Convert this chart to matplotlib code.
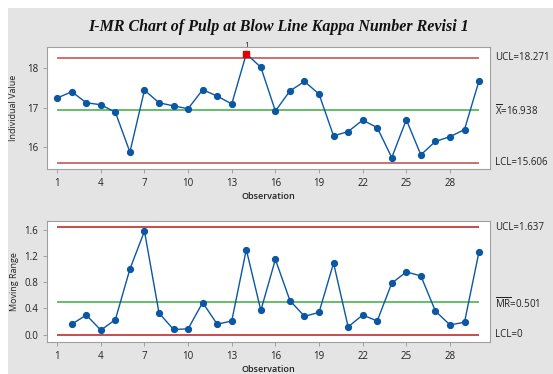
import numpy as np
import matplotlib
matplotlib.use("Agg")
from matplotlib import pyplot as plt
from matplotlib.patches import Rectangle

# observations and individual kappa readings
obs = list(range(1, 31))
kappa = [17.25, 17.41, 17.13, 17.08, 16.89, 15.88, 17.45, 17.13, 17.05, 16.98,
         17.46, 17.30, 17.10, 18.37, 18.03, 16.92, 17.43, 17.67, 17.35, 16.29,
         16.40, 16.69, 16.50, 15.74, 16.70, 15.81, 16.15, 16.27, 16.45, 17.69]

# moving ranges start at the 2nd observation
mr_obs = list(range(2, 31))
mr = [0.16, 0.30, 0.07, 0.23, 1.00, 1.575, 0.33, 0.08, 0.09, 0.49,
      0.16, 0.21, 1.295, 0.37, 1.145, 0.52, 0.28, 0.34, 1.09, 0.12,
      0.30, 0.21, 0.785, 0.955, 0.895, 0.36, 0.15, 0.19, 1.265]

i_ucl, i_cl, i_lcl = 18.271, 16.938, 15.606
mr_ucl, mr_cl, mr_lcl = 1.637, 0.501, 0.0
flagged = [14]

xticks = [1, 4, 7, 10, 13, 16, 19, 22, 25, 28]

BLUE = "#0b57a4"
RED = "#b71c1c"
GREEN = "#5cb85c"
GRAY = "#e4e4e4"
SPINE = "#a0a0a0"
TXT = "#222222"

plt.rcParams["font.family"] = ["Open Sans", "DejaVu Sans"]
plt.rcParams["mathtext.fontset"] = "custom"
plt.rcParams["mathtext.rm"] = "Open Sans"

fig = plt.figure(figsize=(5.53, 3.74), dpi=100)
fig.patch.set_facecolor("white")
fig.patches.append(Rectangle((8 / 553, 0), 1, 1 - 8 / 374, transform=fig.transFigure,
                             facecolor=GRAY, edgecolor="none", zorder=-10))

ax1 = fig.add_axes([0.085, 0.548, 0.801, 0.326])
ax2 = fig.add_axes([0.085, 0.0856, 0.801, 0.3235])


def style(ax):
    for s in ax.spines.values():
        s.set_color(SPINE)
        s.set_linewidth(0.8)
    ax.tick_params(colors=SPINE, labelcolor=TXT, labelsize=7, length=3, width=0.7)
    ax.set_xticks(xticks)
    ax.set_xlim(0.3, 30.75)
    ax.set_xlabel("Observation", fontsize=6.5, color=TXT, fontweight="semibold", labelpad=2)


# individuals chart
style(ax1)
ax1.hlines([i_ucl, i_lcl], 1, 30, color="#c86464", lw=1.3)
ax1.hlines(i_cl, 1, 30, color=GREEN, lw=1.3)
ax1.plot(obs, kappa, color=BLUE, lw=1, marker="o", ms=4.2, zorder=3)
for f in flagged:
    ax1.plot(f, kappa[f - 1], marker="s", ms=4.2, color="#e00000", zorder=4)
    ax1.text(f, kappa[f - 1] + 0.13, "1", ha="center", va="bottom", fontsize=6, color=TXT, clip_on=False)
ax1.set_ylim(15.45, 18.54)
ax1.set_yticks([16, 17, 18])
ax1.set_ylabel("Individual Value", fontsize=6.5, color=TXT, labelpad=6)

tr1 = ax1.get_yaxis_transform()
ax1.text(1.012, i_ucl, "UCL=18.271", transform=tr1, fontsize=7, color=TXT, va="center")
ax1.text(1.012, i_cl, r"$\overline{\mathrm{X}}$=16.938", transform=tr1, fontsize=7, color=TXT, va="center")
ax1.text(1.012, i_lcl, "LCL=15.606", transform=tr1, fontsize=7, color=TXT, va="center")

# moving range chart
style(ax2)
ax2.hlines([mr_ucl, mr_lcl], 1, 30, color=RED, lw=1.1)
ax2.hlines(mr_cl, 1, 30, color=GREEN, lw=1.3)
ax2.plot(mr_obs, mr, color=BLUE, lw=1, marker="o", ms=4.2, zorder=3)
ax2.set_ylim(-0.11, 1.73)
ax2.set_yticks([0.0, 0.4, 0.8, 1.2, 1.6])
ax2.set_yticklabels(["0.0", "0.4", "0.8", "1.2", "1.6"])
ax2.set_ylabel("Moving Range", fontsize=6.5, color=TXT, labelpad=4)

tr2 = ax2.get_yaxis_transform()
ax2.text(1.012, mr_ucl, "UCL=1.637", transform=tr2, fontsize=7, color=TXT, va="center")
ax2.text(1.012, mr_cl - 0.02, r"$\overline{\mathrm{MR}}$=0.501", transform=tr2, fontsize=7, color=TXT, va="center")
ax2.text(1.012, mr_lcl, "LCL=0", transform=tr2, fontsize=7, color=TXT, va="center")

fig.text(0.504, 0.928, "I-MR Chart of Pulp at Blow Line Kappa Number Revisi 1",
         ha="center", va="center", fontsize=11.5, fontweight="bold", fontstyle="italic",
         family="Liberation Serif", color="#111111")

fig.savefig("out.png", dpi=100, facecolor=fig.get_facecolor())
